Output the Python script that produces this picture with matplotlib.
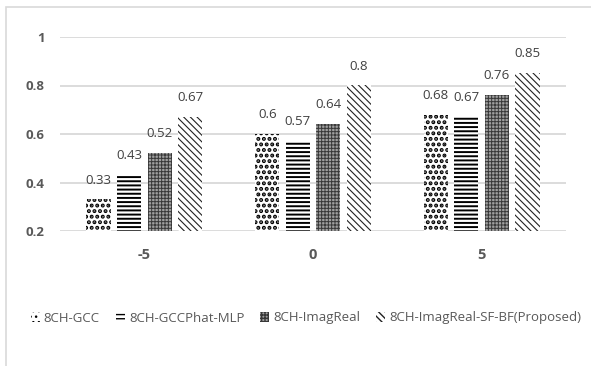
import matplotlib
matplotlib.use("Agg")
import matplotlib.pyplot as plt
import numpy as np
from matplotlib.patches import Rectangle

categories = ["-5", "0", "5"]
series_names = ["8CH-GCC", "8CH-GCCPhat-MLP", "8CH-ImagReal", "8CH-ImagReal-SF-BF(Proposed)"]
gcc = [0.33, 0.60, 0.68]
mlp = [0.43, 0.57, 0.67]
imagreal = [0.52, 0.64, 0.76]
proposed = [0.67, 0.80, 0.85]
yticks = [0.2, 0.4, 0.6, 0.8, 1.0]
ytick_labels = ["0.2", "0.4", "0.6", "0.8", "1"]

plt.rcParams['font.family'] = ['Open Sans', 'DejaVu Sans']

fig = plt.figure(figsize=(5.91, 3.66), dpi=100)
ax = fig.add_axes([60/591, 1-231/366, (566-60)/591, (231-37)/366])

styles = [
    dict(facecolor='white', edgecolor='black', hatch='...'),
    dict(facecolor='white', edgecolor='black', hatch='----'),
    dict(facecolor='#a0a0a0', edgecolor='#383838', hatch='+++++'),
    dict(facecolor='white', edgecolor='#222222', hatch='\\\\\\\\\\'),
]
hatch_lw = [2.0, 1.4, 0.7, 0.8]
data = [gcc, mlp, imagreal, proposed]
x = np.arange(len(categories))
pitch = 0.181
width = 0.143
txtc = '#404040'
handles = []
for i, (vals, st, name) in enumerate(zip(data, styles, series_names)):
    pos = x + (i - 1.5) * pitch
    with plt.rc_context({'hatch.linewidth': hatch_lw[i]}):
        ax.bar(pos, np.array(vals) - 0.2, width, bottom=0.2, linewidth=0, label=name, **st)
    for p, v in zip(pos, vals):
        ax.annotate(f"{v:g}", (p, v), xytext=(0, 14), textcoords='offset points',
                    ha='center', va='center', fontsize=9.5, color=txtc)

ax.set_xlim(-0.5, 2.5)
ax.set_ylim(0.2, 1.0)
ax.set_yticks(yticks)
ax.set_yticklabels(ytick_labels, fontweight='bold', color='#595959', fontsize=9.5)
ax.set_xticks(x)
ax.set_xticklabels(categories, fontweight='bold', color='#595959', fontsize=10.5)
ax.tick_params(axis='both', length=0)
ax.tick_params(axis='y', pad=11)
ax.tick_params(axis='x', pad=12)
for s in ax.spines.values():
    s.set_visible(False)
ax.grid(axis='y', color='#d9d9d9', linewidth=1.3)
ax.set_axisbelow(True)
ax.patch.set_alpha(0)

leg = fig.legend(loc='center', bbox_to_anchor=(306/591, 1-318/366), ncol=4, frameon=False,
                 fontsize=9.5, handlelength=0.7, handleheight=0.8, handletextpad=0.3,
                 columnspacing=1.2, labelcolor='#595959')

fig.patches.append(Rectangle((6/591, -0.1), 1.2, 1-7/366+0.1, transform=fig.transFigure,
                             fill=False, edgecolor='#d9d9d9', linewidth=1.2))
fig.savefig('out.png', dpi=100)
